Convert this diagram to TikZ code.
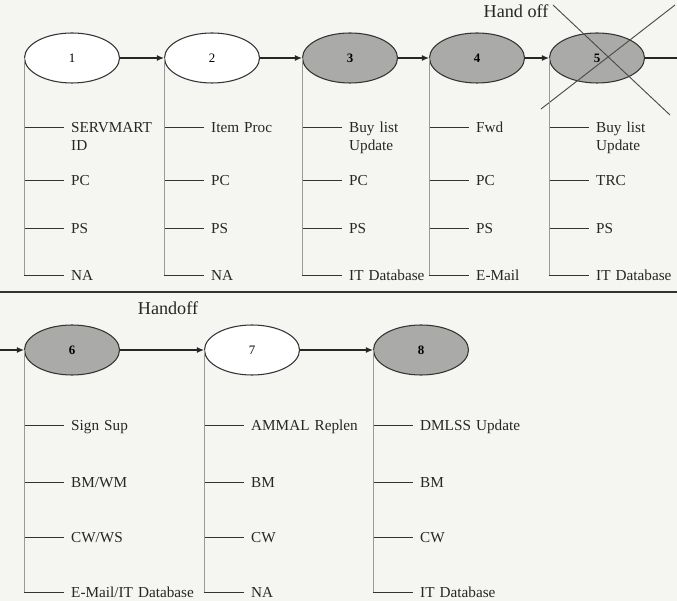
\documentclass[tikz,border=0pt]{standalone}
\usepackage{fontspec}
\setmainfont{Liberation Serif}
\usetikzlibrary{shapes.geometric}
\usetikzlibrary{arrows.meta}
\usetikzlibrary{calc}
\definecolor{paper}{RGB}{245,246,242}
\definecolor{shade}{RGB}{170,170,168}
\tikzset{stage/.style={ellipse,draw=black!80,line width=0.9pt,fill=#1,minimum width=2.85cm,minimum height=1.5cm,inner sep=0pt,font=\fontsize{11}{13}\selectfont},stage/.default=white}
\tikzset{flow/.style={color=#1,line width=0.9pt,-{Latex[length=6pt,width=5pt]}},flow/.default=black!85}
\tikzset{stem/.style={color=#1,line width=0.6pt},stem/.default=black!40}
\tikzset{twig/.style={color=#1,line width=0.8pt},twig/.default=black!80}
\tikzset{tag/.style={anchor=west,inner ysep=0pt,inner xsep=0.21cm,text width=4cm,align=left,text height=8.6pt,text depth=0pt,text=black!85}}

\begin{document}
\begin{tikzpicture}[x=0.03cm,y=-0.03cm,font=\fontsize{13}{15.5}\selectfont]
	\fill[paper] (0,0) rectangle (677,601);
	\useasboundingbox (0,0) rectangle (677,601);

	% Primeira linha
	\node[stage] (s1) at (72,58) {1};
	\node[stage] (s2) at (212,58) {2};
	\node[stage=shade] (s3) at (350,58) {\textbf{3}};
	\node[stage=shade] (s4) at (477,58) {\textbf{4}};
	\node[stage=shade] (s5) at (597,58) {\textbf{5}};
	\coordinate (out) at (677,58);
	\draw [flow] (s1) -- (s2);
	\draw [flow] (s2) -- (s3);
	\draw [flow] (s3) -- (s4);
	\draw [flow] (s4) -- (s5);
	\draw [flow=black!85,-] (s5) -- (out);

	% Passagem riscada
	\node[font=\fontsize{15.5}{18}\selectfont,text=black!85] (h1) at (516,11) {Hand off};
	\draw [black!70,line width=0.8pt] ($(s5)+(-44,-53)$) -- ($(s5)+(73,57)$);
	\draw [black!70,line width=0.8pt] ($(s5)+(78,-53)$) -- ($(s5)+(-56,51)$);

	% Linha divisoria
	\coordinate (cut west) at (0,292);
	\coordinate (cut east) at (677,292);
	\draw [black!80,line width=0.9pt] (cut west) -- (cut east);

	% Segunda linha
	\coordinate (in) at (0,350);
	\node[stage=shade] (s6) at (72,350) {\textbf{6}};
	\node[stage] (s7) at (252,350) {7};
	\node[stage=shade] (s8) at (421,350) {\textbf{8}};
	\draw [flow] (in) -- (s6);
	\draw [flow] (s6) -- (s7);
	\draw [flow] (s7) -- (s8);
	\node[font=\fontsize{15.5}{18}\selectfont,text=black!85] (h2) at (168,308) {Handoff};

	% Ramos de cada etapa
	\foreach \s/\list in {
		s1/{127/{SERVMART\\ID},180/PC,228/PS,275/NA},
		s2/{127/Item Proc,180/PC,228/PS,275/NA},
		s3/{127/{Buy list\\Update},180/PC,228/PS,275/IT Database},
		s4/{127/Fwd,180/PC,228/PS,275/E-Mail},
		s5/{127/{Buy list\\Update},180/TRC,228/PS,275/IT Database},
		s6/{425/Sign Sup,482/{BM/WM},537/{CW/WS},592/{E-Mail/IT Database}},
		s7/{425/AMMAL Replen,482/BM,537/CW,592/NA},
		s8/{425/DMLSS Update,482/BM,537/CW,592/IT Database}}{
		\foreach \y/\t [count=\i] in \list {
			\node[tag] (\s-\i) at ($(\s.west |- 0,\y)+(40,0)$) {\t};
			\draw [twig] (\s.west |- \s-\i) -- (\s-\i);
		}
		\draw [stem] (\s.west) -- (\s.west |- \s-4);
	}

\end{tikzpicture}
\end{document}
